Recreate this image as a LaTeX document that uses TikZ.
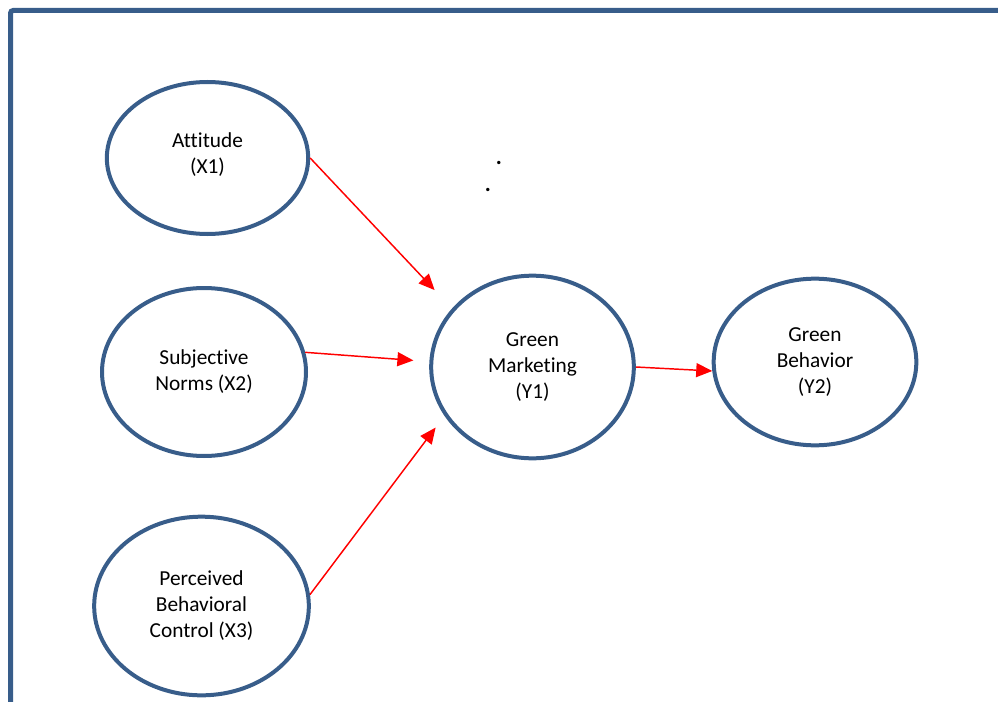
\documentclass[tikz,border=0pt]{standalone}
\usepackage{fontspec}
\setmainfont{Carlito}[Ligatures=NoCommon]
\usetikzlibrary{shapes.geometric, arrows.meta}
\definecolor{ovalblue}{RGB}{56,93,138}

\begin{document}
\begin{tikzpicture}[
    x=0.75pt, y=-0.75pt,
    construct/.style={ellipse, draw=ovalblue, line width=3pt, inner sep=0pt,
                      align=center, font=\fontsize{16}{19.5}\selectfont},
    link/.style={draw=red, line width=1.1pt, -{Triangle[length=12pt,width=10.5pt]}}
]
    \useasboundingbox (0,0) rectangle (998,702);
    \draw [ovalblue, line width=3.75pt, rounded corners=2pt] (10.5,702) -- (10.5,10.5) -- (998,10.5);

    \node [construct, minimum width=151pt, minimum height=114pt] (att) at (207.5,158) {Attitude\\(X1)\\[-12pt]\mbox{}};
    \node [construct, minimum width=153pt, minimum height=126pt] (sn) at (204,372) {Subjective\\Norms (X2)};
    \node [construct, minimum width=161pt, minimum height=134pt] (pbc) at (201.5,606) {Perceived\\Behavioral\\Control (X3)};
    \node [construct, minimum width=152pt, minimum height=137pt] (gm) at (532.5,367) {Green\\Marketing\\(Y1)};
    \node [construct, minimum width=152pt, minimum height=125pt] (gb) at (815,362) {Green\\Behavior\\(Y2)};

    \node [font=\fontsize{17}{19.5}\bfseries, inner sep=0pt] (dotA) at (499,163) {.};
    \node [font=\fontsize{17}{19.5}\bfseries, inner sep=0pt] (dotB) at (488,190) {.};

    \draw [link, shorten >=19pt] (att.east) -- (gm.144);
    \draw [link, shorten >=12pt] (sn.11) -- (gm.177);
    \draw [link, shorten >=11pt] (pbc.6) -- (gm.209);
    \draw [link] (gm.east) -- (gb.185);
\end{tikzpicture}
\end{document}
